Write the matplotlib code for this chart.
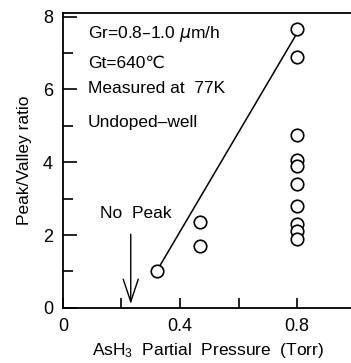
import matplotlib
matplotlib.use("Agg")
import matplotlib.pyplot as plt
from matplotlib.ticker import MultipleLocator

plt.rcParams['font.family'] = ['Liberation Sans', 'DejaVu Sans']
plt.rcParams['mathtext.default'] = 'regular'

# =========================
# DATA
# =========================

pressure = [0.32, 0.47, 0.47, 0.8, 0.8, 0.8, 0.8, 0.8, 0.8, 0.8, 0.8, 0.8, 0.8]
ratio = [1.0, 2.35, 1.7, 7.65, 6.9, 4.75, 4.05, 3.9, 3.4, 2.8, 2.3, 2.1, 1.9]

fit_x = [0.32, 0.8]
fit_y = [1.0, 7.55]

no_peak_x = 0.232

notes = ["Gr=0.8\u20131.0 $\\mathit{\\mu}$m/h", "Gt=640\u2103",
         "Measured at  77K", "Undoped\u2013well"]
notes_y = [7.52, 6.72, 6.02, 5.1]

# =========================
# PLOT
# =========================

fig = plt.figure(figsize=(3.51, 3.63), dpi=100)
ax = fig.add_axes([0.179, 0.152, 0.83, 0.812])

ax.plot(fit_x, fit_y, color="black", lw=1.1)
ax.plot(pressure, ratio, "o", ms=9, mfc="white", mec="black", mew=1.2)

for t, y in zip(notes, notes_y):
    ax.text(0.085, y, t, fontsize=12.5, va="center", ha="left")

ax.annotate("", xy=(no_peak_x, 0.03), xytext=(no_peak_x, 2.1),
            arrowprops=dict(arrowstyle="->,head_length=0.9,head_width=0.3",
                            color="black", lw=1.0, mutation_scale=18))
ax.text(0.25, 2.6, "No  Peak", fontsize=12.5, ha="center", va="center")

ax.set_xlim(0, 0.995)
ax.set_ylim(0, 8.1)
ax.xaxis.set_minor_locator(MultipleLocator(0.2))
ax.yaxis.set_major_locator(MultipleLocator(2))
ax.yaxis.set_minor_locator(MultipleLocator(1))
ax.set_xticks([0, 0.4, 0.8])
ax.set_xticklabels(["0", "0.4", "0.8"])

ax.tick_params(axis="both", which="both", direction="in", labelsize=13,
               width=1.2)
ax.tick_params(axis="y", which="major", length=10, pad=7)
ax.tick_params(axis="y", which="minor", length=7)
ax.tick_params(axis="x", which="both", length=7, pad=7)

ax.spines["right"].set_visible(False)
for s in ["left", "bottom", "top"]:
    ax.spines[s].set_linewidth(1.3)

ax.set_xlabel("AsH$_3$  Partial  Pressure  (Torr)", fontsize=12.5, labelpad=5)
ax.set_ylabel("Peak/Valley ratio", fontsize=12.5, labelpad=8)

fig.savefig("out.png", dpi=100)
